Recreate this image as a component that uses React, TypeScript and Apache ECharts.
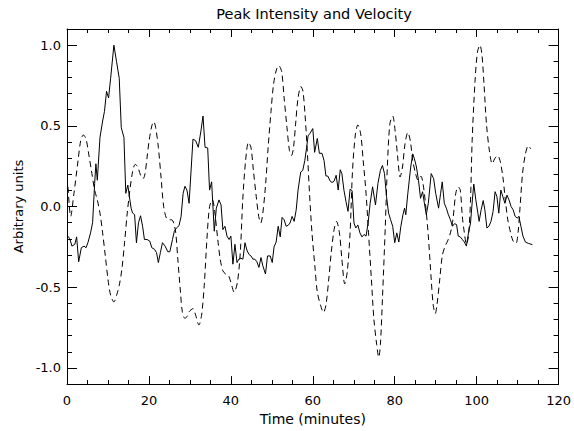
import React, { useEffect, useRef } from "react";
import * as echarts from "echarts";

const titleText = "Peak Intensity and Velocity";
const xName = "Time (minutes)";
const yName = "Arbitrary units";

// Peak intensity (solid): [time in minutes, value]
const intensity: [number, number][] = [
  [0.1,-0.18],[0.7,-0.2],[1.2,-0.245],[1.9,-0.234],[2.35,-0.188],[2.85,-0.342],[3.5,-0.255],[4.15,-0.245],[4.65,-0.255],[5.1,-0.224],
  [5.75,-0.163],[6.25,-0.1],[6.75,0.143],[7.05,0.265],[7.4,0.163],[8.05,0.428],[8.7,0.53],[9.15,0.59],[9.65,0.714],[10.15,0.673],
  [10.65,0.795],[11.45,1.0],[12.1,0.897],[12.75,0.795],[13.25,0.489],[13.9,0.428],[14.35,0.082],[14.85,0.133],[15.35,0.041],[15.65,-0.01],
  [16.0,-0.04],[16.5,-0.05],[16.95,-0.224],[17.45,-0.1],[17.95,-0.057],[18.45,-0.122],[18.9,-0.204],[19.55,-0.204],[20.2,-0.214],[20.7,-0.255],
  [21.35,-0.265],[21.85,-0.285],[22.3,-0.347],[22.8,-0.285],[23.3,-0.224],[23.95,-0.245],[24.6,-0.28],[25.1,-0.28],[25.75,-0.204],[26.2,-0.153],
  [26.7,-0.133],[27.35,-0.118],[27.85,-0.061],[28.35,0.082],[28.8,0.126],[29.3,0.1],[29.8,0.02],[30.75,0.418],[31.4,0.408],[32.05,0.367],
  [32.7,0.469],[33.2,0.561],[33.7,0.367],[34.35,0.363],[34.8,0.102],[35.3,0.153],[35.95,-0.153],[36.45,-0.01],[37.1,0.041],[37.6,0.01],
  [38.05,-0.143],[38.55,-0.122],[39.05,-0.183],[39.55,-0.204],[40.0,-0.183],[40.5,-0.357],[41.0,-0.234],[41.5,-0.347],[41.95,-0.326],[42.45,-0.32],
  [42.95,-0.326],[43.45,-0.224],[43.9,-0.269],[44.4,-0.296],[44.9,-0.306],[45.4,-0.326],[45.85,-0.326],[46.35,-0.342],[46.85,-0.377],[47.35,-0.316],
  [47.8,-0.367],[48.45,-0.418],[48.95,-0.306],[49.6,-0.306],[50.1,-0.347],[50.55,-0.249],[51.05,-0.22],[51.55,-0.122],[52.05,-0.188],[52.5,-0.067],
  [53.0,-0.082],[53.5,-0.122],[54.0,-0.116],[54.45,-0.102],[54.95,-0.061],[55.45,-0.092],[55.95,-0.02],[56.4,0.102],[57.05,0.214],[57.55,0.224],
  [58.05,0.285],[58.5,0.367],[58.85,0.438],[59.3,0.453],[60.0,0.483],[60.45,0.336],[61.1,0.422],[61.6,0.33],[62.25,0.33],[62.75,0.285],
  [63.2,0.19],[63.7,0.188],[64.2,0.159],[64.7,0.149],[65.2,0.157],[65.7,0.194],[66.2,0.102],[66.7,0.228],[67.1,0.204],[67.6,0.102],
  [68.1,0.031],[68.6,-0.03],[69.1,0.108],[69.6,0.098],[70.05,-0.102],[70.5,-0.133],[71.0,-0.114],[71.5,-0.163],[72.0,-0.188],[72.5,-0.173],
  [73.0,-0.183],[73.5,-0.102],[74.0,0.02],[74.6,0.122],[75.3,0.01],[75.9,0.143],[76.5,0.224],[77.0,0.255],[77.5,0.204],[78.0,0.061],
  [78.5,-0.041],[79.0,-0.082],[79.5,-0.122],[80.0,-0.224],[80.5,-0.163],[81.0,-0.22],[81.5,-0.122],[82.0,-0.051],[82.4,-0.01],[82.7,-0.051],
  [83.2,0.082],[83.9,0.245],[84.4,0.326],[84.8,0.296],[85.3,0.245],[85.8,0.163],[86.3,0.051],[86.8,0.092],[87.2,0.027],[87.7,-0.051],
  [88.2,0.02],[88.9,0.204],[89.5,0.173],[90.0,0.082],[90.7,-0.01],[91.2,0.082],[91.6,0.153],[92.1,0.02],[92.6,-0.01],[93.1,-0.051],
  [93.6,-0.082],[94.1,-0.122],[94.6,-0.106],[95.1,-0.112],[95.5,-0.183],[96.0,-0.188],[96.5,-0.204],[97.0,-0.22],[97.5,-0.245],[98.0,-0.163],
  [98.5,-0.102],[98.95,0.041],[99.3,0.139],[99.8,0.041],[100.3,-0.041],[100.6,-0.092],[101.1,-0.02],[101.6,0.037],[102.0,-0.02],[102.5,-0.133],
  [103.0,-0.122],[103.5,-0.092],[104.0,-0.031],[104.5,0.092],[104.95,0.061],[105.4,-0.041],[105.9,0.102],[106.4,0.061],[106.9,0.02],[107.4,0.071],
  [107.9,0.041],[108.4,0.0],[108.9,-0.02],[109.4,-0.061],[109.9,-0.071],[110.3,-0.061],[110.8,-0.122],[111.3,-0.183],[111.9,-0.22],[112.6,-0.228],
  [113.6,-0.236],
];

// Velocity (dashed): [time in minutes, value]
const velocity: [number, number][] = [
  [0.25,0.122],[0.9,-0.061],[1.7,0.082],[2.7,0.285],[3.35,0.408],[4.0,0.444],[4.65,0.418],[5.3,0.326],[5.95,0.224],[6.75,0.102],
  [7.4,0.041],[8.05,-0.041],[8.7,-0.163],[9.35,-0.306],[10.0,-0.449],[10.65,-0.55],[11.45,-0.591],[12.1,-0.55],[12.75,-0.489],[13.4,-0.387],
  [14.05,-0.224],[14.7,-0.041],[15.35,0.102],[16.0,0.214],[16.65,0.261],[17.3,0.245],[17.95,0.194],[18.6,0.173],[19.05,0.204],[19.55,0.306],
  [20.05,0.408],[20.7,0.5],[21.2,0.526],[21.65,0.489],[22.3,0.367],[22.95,0.183],[23.6,0.0],[24.25,-0.071],[24.9,-0.082],[25.55,-0.082],
  [26.05,-0.102],[26.55,-0.163],[27.05,-0.326],[27.7,-0.53],[28.15,-0.652],[28.8,-0.693],[29.5,-0.673],[29.8,-0.652],[30.75,-0.632],[31.4,-0.673],
  [32.2,-0.734],[32.85,-0.673],[33.5,-0.489],[34.15,-0.204],[34.8,0.0],[35.5,0.041],[36.1,-0.041],[36.8,-0.204],[37.4,-0.326],[38.05,-0.398],
  [38.7,-0.418],[39.35,-0.424],[40.0,-0.469],[40.8,-0.53],[41.6,-0.469],[42.3,-0.285],[42.9,0.041],[43.6,0.285],[44.3,0.398],[44.9,0.367],
  [45.5,0.224],[46.2,0.061],[46.8,-0.061],[47.3,-0.102],[47.8,-0.041],[48.5,0.143],[49.1,0.367],[49.8,0.591],[50.4,0.754],[51.1,0.846],
  [51.7,0.873],[52.4,0.836],[53.0,0.673],[53.7,0.489],[54.3,0.347],[54.8,0.316],[55.3,0.367],[55.8,0.51],[56.4,0.673],[57.1,0.744],
  [57.6,0.714],[58.1,0.571],[58.7,0.326],[59.2,0.082],[59.8,-0.163],[60.5,-0.367],[61.1,-0.53],[61.9,-0.612],[62.6,-0.656],[63.2,-0.612],
  [63.9,-0.449],[64.5,-0.285],[65.2,-0.143],[65.8,-0.092],[66.5,-0.163],[67.1,-0.326],[67.8,-0.479],[68.4,-0.408],[69.1,-0.163],[69.7,0.224],
  [70.4,0.449],[71.0,0.506],[71.7,0.449],[72.3,0.285],[73.0,0.082],[73.6,-0.163],[74.3,-0.449],[74.9,-0.693],[75.6,-0.856],[76.1,-0.934],
  [76.5,-0.856],[77.0,-0.571],[77.7,-0.122],[78.2,0.245],[78.8,0.51],[79.5,0.561],[80.1,0.469],[80.8,0.285],[81.3,0.183],[81.9,0.245],
  [82.5,0.387],[83.2,0.459],[83.8,0.408],[84.4,0.285],[85.1,0.204],[85.7,0.163],[86.4,0.188],[86.9,0.143],[87.5,0.02],[88.2,-0.183],
  [88.9,-0.449],[89.4,-0.612],[89.9,-0.663],[90.3,-0.612],[91.0,-0.449],[91.6,-0.306],[92.3,-0.245],[92.9,-0.214],[93.6,-0.163],[94.2,-0.082],
  [94.9,0.082],[95.5,0.122],[96.0,0.102],[96.5,-0.061],[97.0,-0.163],[97.5,-0.234],[98.0,-0.183],[98.5,0.041],[98.9,0.408],[99.6,0.775],
  [100.2,0.958],[100.8,1.0],[101.3,0.938],[101.8,0.754],[102.4,0.51],[103.1,0.347],[103.8,0.265],[104.4,0.296],[105.1,0.316],[105.7,0.285],
  [106.4,0.183],[107.0,0.041],[107.6,-0.082],[108.3,-0.163],[108.9,-0.214],[109.6,-0.228],[110.1,-0.163],[110.6,0.0],[111.2,0.204],[111.9,0.326],
  [112.6,0.377],[113.2,0.357],
];

const FONT = "DejaVu Sans";

export default function App() {
  const ref = useRef<HTMLDivElement>(null);
  useEffect(() => {
    document.body.style.margin = "0";
    const chart = echarts.init(ref.current!, null, { renderer: "svg" });
    const black = "#000";
    const xCommon = {
      type: "value" as const,
      min: 0,
      max: 120,
      interval: 20,
      splitLine: { show: false },
      axisLine: { show: true, onZero: false, lineStyle: { color: black, width: 1 } },
      axisTick: { show: true, inside: true, length: 8, lineStyle: { color: black } },
      minorTick: { show: true, splitNumber: 4, length: 4, lineStyle: { color: black } },
    };
    const yCommon = {
      type: "value" as const,
      min: -1.1,
      max: 1.1,
      splitNumber: 5,
      splitLine: { show: false },
      axisLine: { show: true, onZero: false, lineStyle: { color: black, width: 1 } },
      axisTick: { show: true, inside: true, length: 10, lineStyle: { color: black } },
      minorTick: { show: true, splitNumber: 5, length: 5, lineStyle: { color: black } },
    };
    chart.setOption({
      animation: false,
      backgroundColor: "#fff",
      textStyle: { fontFamily: FONT },
      grid: { left: 67, right: 13, top: 29, bottom: 42 },
      graphic: [
        {
          type: "text",
          x: 314,
          y: 14,
          style: {
            text: titleText,
            fill: black,
            font: `14.5px "${FONT}"`,
            textAlign: "center",
            textVerticalAlign: "middle",
          },
        },
      ],
      xAxis: [
        {
          ...xCommon,
          position: "bottom",
          name: xName,
          nameLocation: "middle",
          nameGap: 27,
          nameTextStyle: { color: black, fontSize: 14, fontFamily: FONT },
          axisLabel: { show: true, color: black, fontSize: 13, fontFamily: FONT, margin: 10 },
        },
        { ...xCommon, position: "top", axisLabel: { show: false } },
      ],
      yAxis: [
        {
          ...yCommon,
          position: "left",
          name: yName,
          nameLocation: "middle",
          nameGap: 42,
          nameTextStyle: { color: black, fontSize: 13, fontFamily: FONT },
          axisLabel: {
            show: true,
            color: black,
            fontSize: 13,
            fontFamily: FONT,
            margin: 6,
            showMinLabel: false,
            showMaxLabel: false,
            formatter: (v: number) => (Math.abs(v) > 1.05 ? "" : v.toFixed(1)),
          },
        },
        { ...yCommon, position: "right", axisLabel: { show: false } },
      ],
      series: [
        {
          type: "line",
          name: "Intensity",
          data: intensity,
          xAxisIndex: 0,
          yAxisIndex: 0,
          showSymbol: false,
          symbol: "none",
          lineStyle: { color: black, width: 1 },
        },
        {
          type: "line",
          name: "Velocity",
          data: velocity,
          xAxisIndex: 0,
          yAxisIndex: 0,
          showSymbol: false,
          symbol: "none",
          smooth: 0.3,
          lineStyle: { color: black, width: 1, type: [6, 4] },
        },
      ],
    });
    return () => chart.dispose();
  }, []);
  return (
    <div
      ref={ref}
      style={{ width: 574, height: 431, position: "absolute", left: 0, top: 0 }}
    />
  );
}
